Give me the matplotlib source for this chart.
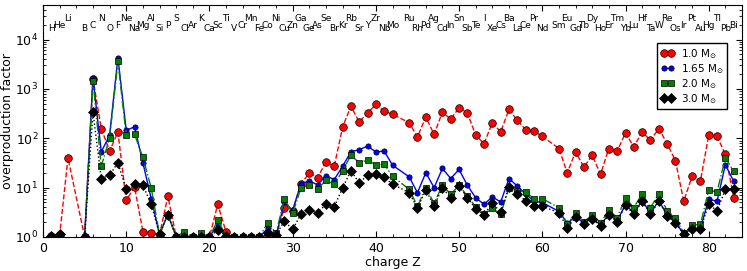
import numpy as np
import matplotlib
matplotlib.use("Agg")
import matplotlib.pyplot as plt
from matplotlib.ticker import MultipleLocator

# ── data ─────────────────────────────────────────────────────────────────────
elements = ["H", "He", "Li", "B", "C", "N", "O", "F", "Ne", "Na", "Mg", "Al",
            "Si", "P", "S", "Cl", "Ar", "K", "Ca", "Sc", "Ti", "V", "Cr", "Mn",
            "Fe", "Co", "Ni", "Cu", "Zn", "Ga", "Ge", "As", "Se", "Br", "Kr",
            "Rb", "Sr", "Y", "Zr", "Nb", "Mo", "Ru", "Rh", "Pd", "Ag", "Cd",
            "In", "Sn", "Sb", "Te", "I", "Xe", "Cs", "Ba", "La", "Ce", "Pr",
            "Nd", "Sm", "Eu", "Gd", "Tb", "Dy", "Ho", "Er", "Tm", "Yb", "Lu",
            "Hf", "Ta", "W", "Re", "Os", "Ir", "Pt", "Au", "Hg", "Tl", "Pb", "Bi"]
charge = [1, 2, 3] + list(range(5, 43)) + list(range(44, 61)) + list(range(62, 84))

m100 = [1.05, 1.1, 40, 1.0, 1600, 157, 55, 134, 5.5, 10.4, 1.28, 1.19, 1.1,
        6.7, 1.02, 1.02, 1.0, 1.02, 1.0, 4.6, 1.25, 1.02, 1.0, 1.0, 1.0, 1.1,
        1.05, 3.9, 3.4, 12.1, 19.4, 16, 33, 27, 169, 443, 214, 325, 486, 352,
        305, 207, 106, 270, 120, 340, 242, 417, 325, 115, 78, 207, 134, 385,
        231, 150, 139, 110, 62, 20, 53, 26, 45, 18.7, 62, 55, 128, 67, 134, 91,
        157, 78, 35, 5.3, 17, 13.5, 115, 110, 47, 6.3]
m165 = [1.02, 1.1, 0.3, 1.0, 1680, 53, 115, 4300, 145, 170, 32, 6.0, 1.12,
        2.9, 1.02, 1.05, 1.0, 1.05, 1.0, 1.8, 1.05, 1.0, 1.0, 1.0, 1.0, 1.5,
        1.05, 5.0, 3.5, 12, 13.7, 11.4, 17.3, 14.6, 27, 53, 59, 69, 53, 55,
        28.5, 16.5, 7.9, 20, 10, 24.4, 15.3, 23.3, 11.1, 6.2, 4.6, 6.5, 5.1,
        15.3, 10.7, 7.5, 5.3, 5.0, 3.3, 1.9, 2.6, 1.9, 2.4, 1.75, 2.9, 2.1,
        4.6, 3.0, 5.5, 3.0, 5.5, 2.8, 2.0, 1.15, 1.5, 1.5, 5.8, 5.3, 29, 13.5]
m200 = [1.02, 1.1, 0.3, 1.0, 1440, 27, 101, 3600, 115, 120, 41, 9.9, 1.12,
        2.8, 1.02, 1.28, 1.0, 1.2, 1.0, 2.2, 1.05, 1.0, 1.0, 1.0, 1.0, 1.95,
        1.18, 5.9, 3.0, 9.9, 11.1, 9.3, 14.2, 11.6, 22, 45, 32, 36, 29, 29.5,
        17.1, 9.2, 4.2, 10, 4.8, 11.2, 7.3, 11.2, 6.7, 4.1, 2.9, 3.8, 2.9,
        9.9, 8.5, 8.2, 6.0, 6.0, 3.9, 1.85, 3.0, 2.04, 2.8, 1.95, 3.5, 2.45,
        6.2, 3.9, 7.6, 3.9, 7.6, 3.4, 2.45, 1.2, 1.75, 1.8, 8.9, 8.2, 40, 21.5]
m300 = [1.05, 1.15, 0.3, 1.0, 340, 15.3, 17.9, 32, 9.2, 12, 11.2, 4.6, 1.15,
        2.85, 1.02, 1.02, 1.0, 1.02, 1.0, 1.4, 1.05, 1.0, 1.0, 1.0, 1.0, 1.19,
        1.1, 2.1, 1.43, 2.9, 3.5, 3.1, 4.6, 4.1, 9.9, 22, 12.5, 17.9, 18.7,
        16.2, 11.8, 7.9, 3.9, 8.9, 4.3, 9.9, 6.2, 10.7, 6.3, 3.7, 2.8, 4.9,
        3.15, 10.4, 7.6, 5.4, 4.2, 4.2, 3.1, 1.54, 2.5, 1.8, 2.3, 1.69, 2.8,
        2.04, 4.4, 2.9, 5.3, 2.9, 5.3, 2.7, 1.9, 1.15, 1.43, 1.43, 4.6, 3.4,
        9.2, 9.2]

labels = [r"1.0 M$_{\odot}$", r"1.65 M$_{\odot}$", r"2.0 M$_{\odot}$",
          r"3.0 M$_{\odot}$"]

# ── plot ─────────────────────────────────────────────────────────────────────
fig = plt.figure(figsize=(7.47, 2.71), dpi=100)
ax = fig.add_axes([0.0576, 0.1255, 0.9357, 0.856])

kw = dict(mec="k", mew=0.5, lw=1)
ax.plot(charge, m100, "o--", color="r", ms=5.5, label=labels[0], **kw)
ax.plot(charge, m165, "o-", color="b", ms=3.8, label=labels[1], **kw)
ax.plot(charge, m200, "s-.", color="#007f00", ms=5, label=labels[2], **kw)
ax.plot(charge, m300, "D:", color="k", ms=5, label=labels[3], **kw)

# element names, staggered in three rows
row_y = [1.5e4, 1.75e4, 2.4e4]
for i, (z, el) in enumerate(zip(charge, elements)):
    ax.text(z, row_y[i % 3], el, ha="center", va="baseline", fontsize=6.5)

ax.set_yscale("log")
ax.set_xlim(0, 84)
ax.set_ylim(1, 5e4)
ax.xaxis.set_major_locator(MultipleLocator(10))
ax.xaxis.set_minor_locator(MultipleLocator(2))
ax.tick_params(which="both", direction="in", top=True, right=True,
               labelsize=9)
ax.tick_params(which="major", length=4)
ax.tick_params(which="minor", length=2)
ax.set_xlabel("charge Z", fontsize=9, labelpad=1)
ax.set_ylabel("overproduction factor", fontsize=9, labelpad=1)

ax.legend(loc="upper right", bbox_to_anchor=(0.979, 0.836), fontsize=7.5,
          numpoints=2, fancybox=False, edgecolor="k", framealpha=1,
          borderpad=0.35, labelspacing=0.12, handlelength=1.3,
          handletextpad=0.6, borderaxespad=0)

fig.savefig("out.png", dpi=100)
